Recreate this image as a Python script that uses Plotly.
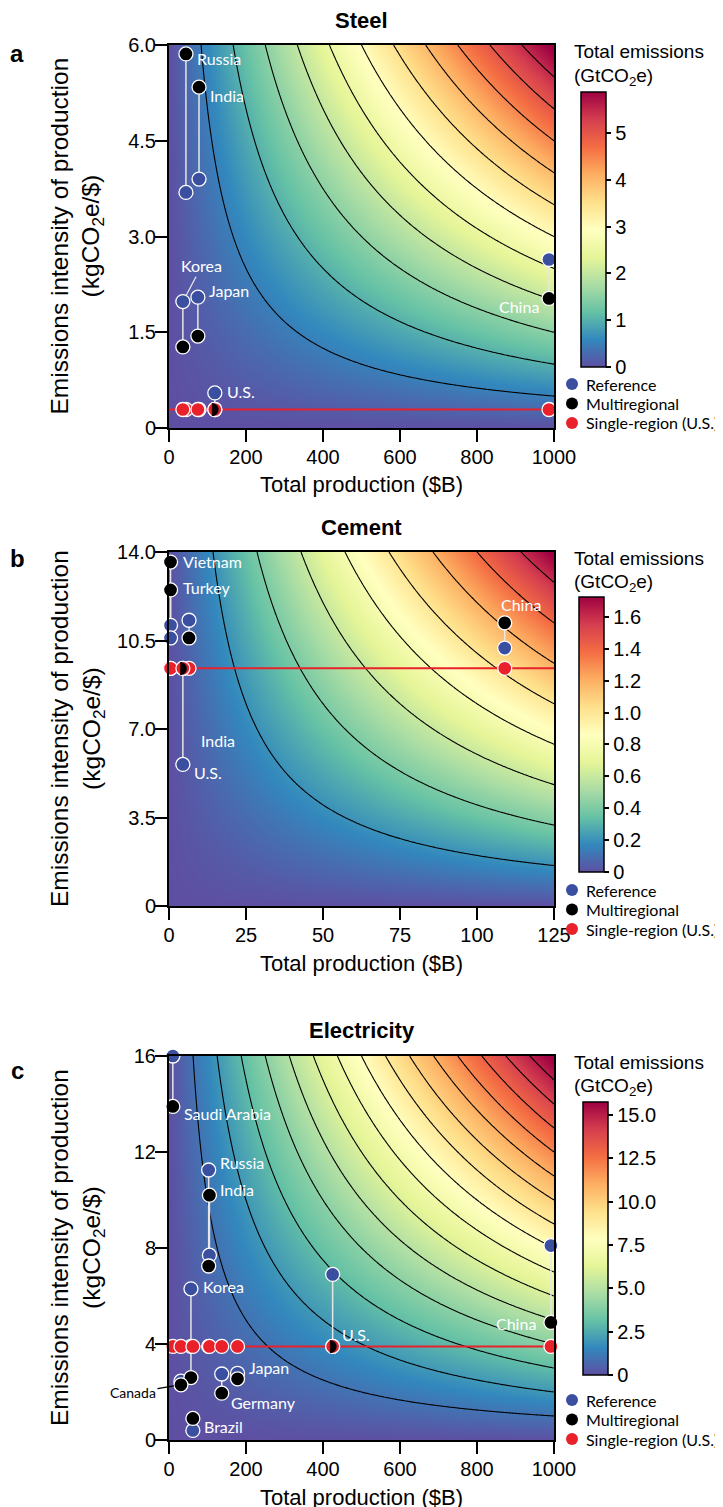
import numpy as np
import plotly.graph_objects as go

W, H = 723, 1507
OFF = 8  # page body margin of the browser

# ------------------------------------------------------------------ data
steel_countries = ["Russia", "India", "Korea", "Japan", "U.S.", "China"]
steel_production = [44, 78, 36, 75, 119, 987]
steel_reference = [3.69, 3.90, 1.98, 2.05, 0.55, 2.64]
steel_multiregional = [5.86, 5.34, 1.27, 1.44, 0.29, 2.03]
steel_single_region = 0.29

cement_countries = ["Vietnam", "Turkey", "India", "U.S.", "China"]
cement_production = [0.5, 0.5, 6.5, 4.5, 109]
cement_reference = [11.1, 10.6, 11.3, 5.6, 10.2]
cement_multiregional = [13.6, 12.5, 10.6, 9.4, 11.2]
cement_single_region = 9.4

elec_countries = ["Saudi Arabia", "Russia", "India", "Korea", "Canada",
                  "Japan", "Germany", "Brazil", "U.S.", "China"]
elec_production = [10, 103, 105, 57, 31, 178, 137, 62, 425, 992]
elec_reference = [16.0, 11.25, 7.7, 6.3, 2.45, 2.78, 2.75, 0.4, 6.9, 8.1]
elec_multiregional = [13.9, 7.25, 10.2, 2.6, 2.3, 2.55, 1.95, 0.9, 3.9, 4.9]
elec_single_region = 3.9

steel_xticks = [0, 200, 400, 600, 800, 1000]
steel_yticks = [0, 1.5, 3.0, 4.5, 6.0]
steel_ytext = ["0", "1.5", "3.0", "4.5", "6.0"]
steel_cbticks = [0, 1, 2, 3, 4, 5]
steel_cbtext = ["0", "1", "2", "3", "4", "5"]

cement_xticks = [0, 25, 50, 75, 100, 125]
cement_yticks = [0, 3.5, 7.0, 10.5, 14.0]
cement_ytext = ["0", "3.5", "7.0", "10.5", "14.0"]
cement_cbticks = [0, 0.2, 0.4, 0.6, 0.8, 1.0, 1.2, 1.4, 1.6]
cement_cbtext = ["0", "0.2", "0.4", "0.6", "0.8", "1.0", "1.2", "1.4", "1.6"]

elec_xticks = [0, 200, 400, 600, 800, 1000]
elec_yticks = [0, 4, 8, 12, 16]
elec_ytext = ["0", "4", "8", "12", "16"]
elec_cbticks = [0, 2.5, 5.0, 7.5, 10.0, 12.5, 15.0]
elec_cbtext = ["0", "2.5", "5.0", "7.5", "10.0", "12.5", "15.0"]

# ------------------------------------------------------------------ styles
BLUE = "#3a4f9f"
RED = "#e8212b"
SANS = "Liberation Sans, Arial, Helvetica, sans-serif"
TICKFONT = dict(family=SANS, size=20, color="black")
LABELFONT = "Lato, Open Sans, sans-serif"

# label layout: (country, anchor series, xanchor, dx, dy)  dy>0 = downward
steel_label_layout = [
    ("Russia", "multi", "left", 9, 5), ("India", "multi", "left", 9, 8),
    ("Japan", "ref", "left", 9, -7), ("U.S.", "ref", "left", 10, -1),
    ("China", "multi", "right", -8, 8),
]
steel_arrow_layout = [("Korea", "ref", 19, -36)]

cement_label_layout = [
    ("Vietnam", "multi", "left", 10, -1), ("Turkey", "multi", "left", 10, -2),
    ("U.S.", "ref", "left", 9, 8), ("China", "multi", "center", 16, -18),
]
cement_extra_layout = [("India", "U.S.", "ref", "left", 16, -24)]
cement_arrow_layout = []

elec_label_layout = [
    ("Saudi Arabia", "multi", "left", 9, 7), ("Russia", "ref", "left", 9, -8),
    ("India", "multi", "left", 9, -6), ("Korea", "ref", "left", 10, -2),
    ("U.S.", "multi", "left", 7, -12), ("Japan", "ref", "left", 9, -6),
    ("Germany", "multi", "left", 7, 9), ("Brazil", "multi", "left", 9, 8),
    ("China", "multi", "right", -13, 1),
]
elec_arrow_layout = [("Canada", "multi", -48, 8)]

panels = [
    dict(letter="a", title="Steel", countries=steel_countries, prod=steel_production,
         ref=steel_reference, multi=steel_multiregional, single=steel_single_region,
         xmax=1000, ymax=6.0, xt=steel_xticks, yt=steel_yticks, ytt=steel_ytext,
         cbt=steel_cbticks, cbtt=steel_cbtext, zmax=5.88, step=0.5,
         top=45, bot=428, cbx=581, cbtop=92, cblen=275, cbtitle=52, leg=384,
         title_y=20, letter_y=53, labels=steel_label_layout, arrows=steel_arrow_layout, extra=[]),
    dict(letter="b", title="Cement", countries=cement_countries, prod=cement_production,
         ref=cement_reference, multi=cement_multiregional, single=cement_single_region,
         xmax=125, ymax=14.0, xt=cement_xticks, yt=cement_yticks, ytt=cement_ytext,
         cbt=cement_cbticks, cbtt=cement_cbtext, zmax=1.725, step=0.2,
         top=552, bot=906, cbx=579, cbtop=597, cblen=275, cbtitle=558, leg=890,
         title_y=527, letter_y=558, labels=cement_label_layout, arrows=cement_arrow_layout,
         extra=cement_extra_layout),
    dict(letter="c", title="Electricity", countries=elec_countries, prod=elec_production,
         ref=elec_reference, multi=elec_multiregional, single=elec_single_region,
         xmax=1000, ymax=16.0, xt=elec_xticks, yt=elec_yticks, ytt=elec_ytext,
         cbt=elec_cbticks, cbtt=elec_cbtext, zmax=15.75, step=1.0,
         top=1056, bot=1440, cbx=583, cbtop=1102, cblen=273, cbtitle=1062, leg=1400,
         title_y=1031, letter_y=1070, labels=elec_label_layout, arrows=elec_arrow_layout, extra=[]),
]

PLOT_L, PLOT_R = 169, 554

fig = go.Figure()
annotations = []
shapes = []
layout_axes = {}


def fx(p):
    return (p - OFF) / W


def fy(p):
    return 1 - (p - OFF) / H


for i, P in enumerate(panels):
    n = "" if i == 0 else str(i + 1)
    xa, ya = "x" + n, "y" + n
    # ---- background field (production x intensity = total emissions, Gt)
    gx = np.linspace(0, P["xmax"], 241)
    gy = np.linspace(0, P["ymax"], 241)
    gz = np.outer(gy, gx) / 1000.0
    fig.add_trace(go.Heatmap(
        x=gx, y=gy, z=gz, xaxis=xa, yaxis=ya, zsmooth="best",
        colorscale="Spectral", reversescale=True, zmin=0, zmax=P["zmax"],
        hoverinfo="skip", showscale=True,
        colorbar=dict(x=fx(P["cbx"]), xanchor="left", xpad=0, ypad=0,
                      y=fy(P["cbtop"]), yanchor="top",
                      len=P["cblen"], lenmode="pixels", thickness=25,
                      outlinewidth=1.5, outlinecolor="black",
                      ticks="outside", ticklen=5, tickwidth=1.5, tickcolor="black",
                      tickvals=P["cbt"], ticktext=P["cbtt"], tickfont=TICKFONT),
    ))
    fig.add_trace(go.Contour(
        x=gx, y=gy, z=gz, xaxis=xa, yaxis=ya, showscale=False,
        autocontour=False,
        contours=dict(start=P["step"], end=P["step"] * 40, size=P["step"],
                      coloring="none", showlines=True),
        line=dict(color="black", width=1.1, smoothing=1),
        hoverinfo="skip", showlegend=False,
    ))
    # ---- connectors
    lx, ly = [], []
    for p, r, m in zip(P["prod"], P["ref"], P["multi"]):
        lx += [p, p, None]
        ly += [r, m, None]
    fig.add_trace(go.Scatter(x=lx, y=ly, mode="lines", xaxis=xa, yaxis=ya,
                             line=dict(color="#e6e6e6", width=1.5),
                             showlegend=False, hoverinfo="skip", cliponaxis=False))
    # ---- single region line
    fig.add_trace(go.Scatter(x=[0, P["xmax"]], y=[P["single"]] * 2, mode="lines",
                             xaxis=xa, yaxis=ya, line=dict(color=RED, width=2),
                             showlegend=False, hoverinfo="skip"))
    mk = dict(size=14, line=dict(color="white", width=1.3))
    fig.add_trace(go.Scatter(x=P["prod"], y=P["ref"], mode="markers", xaxis=xa, yaxis=ya,
                             marker=dict(color=BLUE, **mk), showlegend=False, cliponaxis=False))
    fig.add_trace(go.Scatter(x=P["prod"], y=P["multi"], mode="markers", xaxis=xa, yaxis=ya,
                             marker=dict(color="black", **mk), showlegend=False, cliponaxis=False))
    fig.add_trace(go.Scatter(x=P["prod"], y=[P["single"]] * len(P["prod"]), mode="markers",
                             xaxis=xa, yaxis=ya, marker=dict(color=RED, **mk),
                             showlegend=False, cliponaxis=False))
    # ---- U.S. half marker (multiregional == single-region)
    us = P["countries"].index("U.S.")
    fig.add_trace(go.Scatter(x=[P["prod"][us]], y=[P["multi"][us]], mode="text",
                             text=["\u25d7"], xaxis=xa, yaxis=ya,
                             textfont=dict(family="DejaVu Sans", size=17, color="black"),
                             textposition="middle center",
                             showlegend=False, hoverinfo="skip", cliponaxis=False))

    # ---- axes
    layout_axes["xaxis" + n] = dict(
        domain=[fx(PLOT_L), fx(PLOT_R)], range=[0, P["xmax"]], anchor=ya,
        tickvals=P["xt"], ticks="outside", ticklen=12, tickwidth=2, tickcolor="black",
        showline=True, linewidth=2, linecolor="black", mirror=True, automargin=False,
        ticklabelstandoff=-2,
        showgrid=False, zeroline=False, tickfont=TICKFONT, fixedrange=True)
    layout_axes["yaxis" + n] = dict(
        domain=[fy(P["bot"]), fy(P["top"])], range=[0, P["ymax"]], anchor=xa,
        tickvals=P["yt"], ticktext=P["ytt"], ticks="outside", ticklen=12, tickwidth=2,
        tickcolor="black", showline=True, linewidth=2, linecolor="black", mirror=True,
        automargin=False, ticklabelstandoff=-5,
        showgrid=False, zeroline=False, tickfont=TICKFONT, fixedrange=True)

    def para(text, px, py, size, xanchor="center", color="black", family=SANS, **kw):
        annotations.append(dict(text=text, x=fx(px), y=fy(py), xref="paper", yref="paper",
                                xanchor=xanchor, yanchor="middle", showarrow=False,
                                font=dict(family=family, size=size, color=color), **kw))

    # ---- texts
    para("<b>%s</b>" % P["title"], (PLOT_L + PLOT_R) / 2, P["title_y"], 22)
    para("<b>%s</b>" % P["letter"], 17, P["letter_y"], 24)
    para("Emissions intensity of production<br>(kgCO<sub>2</sub>e/$)", 77,
         (P["top"] + P["bot"]) / 2, 24.5, textangle=-90)
    para("Total production ($B)", (PLOT_L + PLOT_R) / 2, P["bot"] + 57, 22)
    para("Total emissions", 572, P["cbtitle"], 19, xanchor="left")
    para("(GtCO<sub>2</sub>e)", 572, P["cbtitle"] + 25, 19, xanchor="left")
    for k, (name, col) in enumerate([("Reference", BLUE), ("Multiregional", "black"),
                                     ("Single-region (U.S.)", RED)]):
        yy = P["leg"] + 19.5 * k
        shapes.append(dict(type="circle", xref="paper", yref="paper",
                           x0=fx(566), x1=fx(578), y0=fy(yy + 6), y1=fy(yy - 6),
                           fillcolor=col, line=dict(width=0)))
        para(name, 584, yy, 16, xanchor="left", family=LABELFONT)

    def pt(name, series):
        j = P["countries"].index(name)
        return P["prod"][j], (P["ref"][j] if series == "ref" else P["multi"][j])

    for name, series, anc, dx, dy in P["labels"]:
        x0, y0 = pt(name, series)
        annotations.append(dict(text=name, x=x0, y=y0, xref=xa, yref=ya, xanchor=anc,
                                yanchor="middle", xshift=dx, yshift=-dy, showarrow=False,
                                font=dict(family=LABELFONT, size=16, color="white")))
    for name, owner, series, anc, dx, dy in P["extra"]:
        x0, y0 = pt(owner, series)
        annotations.append(dict(text=name, x=x0, y=y0, xref=xa, yref=ya, xanchor=anc,
                                yanchor="middle", xshift=dx, yshift=-dy, showarrow=False,
                                font=dict(family=LABELFONT, size=16, color="white")))
    for name, series, ax, ay in P["arrows"]:
        x0, y0 = pt(name, series)
        dark = name == "Canada"
        annotations.append(dict(text=name, x=x0, y=y0, xref=xa, yref=ya, ax=ax, ay=ay,
                                showarrow=True, arrowhead=0, arrowwidth=1.2,
                                arrowcolor="black" if dark else "#e6e6e6", standoff=7,
                                font=dict(family=LABELFONT, size=14 if dark else 16,
                                          color="black" if dark else "white")))

fig.update_layout(
    width=W, height=H, margin=dict(l=0, r=0, t=0, b=0, autoexpand=False),
    paper_bgcolor="white", plot_bgcolor="white", showlegend=False,
    annotations=annotations, shapes=shapes, **layout_axes)

fig.write_html("out.html")
